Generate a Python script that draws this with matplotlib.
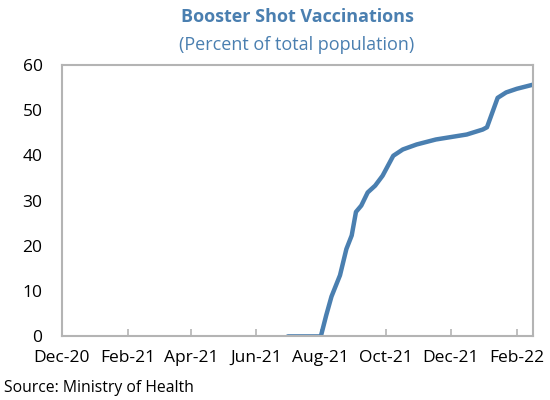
import numpy as np
import pandas as pd
import matplotlib
matplotlib.use("Agg")
from matplotlib import pyplot as plt

plt.rcParams['font.family'] = ['Open Sans', 'DejaVu Sans']

# values
dates = ["2021-07-01", "2021-08-01", "2021-08-06", "2021-08-11", "2021-08-19",
         "2021-08-25", "2021-08-30", "2021-09-03", "2021-09-08", "2021-09-14",
         "2021-09-21", "2021-09-28", "2021-10-08", "2021-10-17", "2021-10-30",
         "2021-11-17", "2021-12-16", "2021-12-31", "2022-01-04", "2022-01-10",
         "2022-01-14", "2022-01-22", "2022-02-01", "2022-02-16"]
booster_pct = [0.0, 0.0, 4.6, 8.8, 13.5,
               19.3, 22.3, 27.5, 28.9, 31.8,
               33.3, 35.5, 39.9, 41.3, 42.4,
               43.5, 44.6, 45.7, 46.2, 50.1,
               52.7, 53.9, 54.7, 55.6]
tick_dates = ["2020-12-01", "2021-02-01", "2021-04-01", "2021-06-01",
              "2021-08-01", "2021-10-01", "2021-12-01", "2022-02-01"]
tick_labels = ["Dec-20", "Feb-21", "Apr-21", "Jun-21",
               "Aug-21", "Oct-21", "Dec-21", "Feb-22"]

blue = "#4a7fb0"
grey = "#b4b4b4"

x = pd.to_datetime(dates)

fig = plt.figure(figsize=(5.5, 4), dpi=100)
ax = fig.add_axes([0.1127, 0.159, 0.856, 0.679])

ax.plot(x, booster_pct, color=blue, lw=3.2, solid_capstyle="round")

ax.set_xlim(pd.Timestamp("2020-12-01"), pd.Timestamp("2022-02-16"))
ax.set_ylim(0, 60)
ax.set_yticks(range(0, 61, 10))
ax.set_xticks(pd.to_datetime(tick_dates))
ax.set_xticklabels(tick_labels)

for s in ax.spines.values():
    s.set_color(grey)
    s.set_linewidth(1.5)
ax.tick_params(axis="x", direction="in", length=5, width=1.2, color=grey,
               labelsize=12.5, pad=10)
ax.tick_params(axis="y", length=0, labelsize=12.5, pad=14)

fig.text(0.54, 0.957, "Booster Shot Vaccinations", color=blue, fontsize=13,
         fontweight="bold", ha="center", va="center")
fig.text(0.54, 0.888, "(Percent of total population)", color=blue, fontsize=13,
         ha="center", va="center")
fig.text(0.008, 0.03, "Source: Ministry of Health", fontsize=11.3, ha="left", va="center")

fig.savefig("out.png", dpi=100)
